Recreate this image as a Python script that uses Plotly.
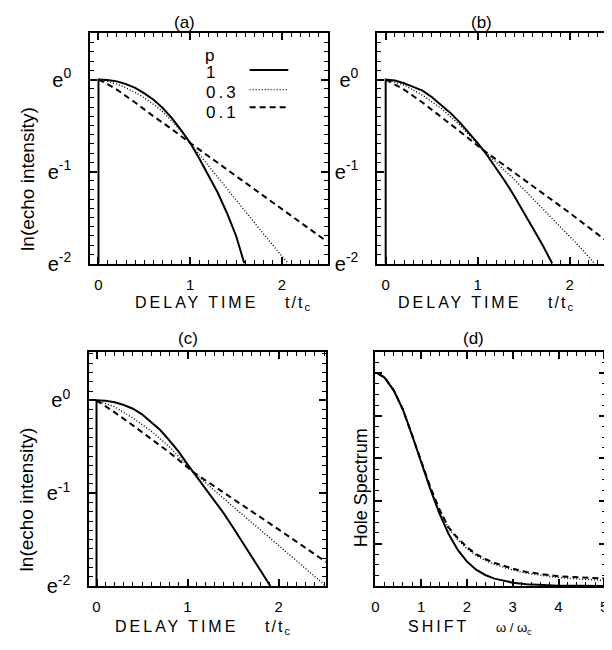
import plotly.graph_objects as go

# ---------------- data ----------------
# panel (a)
A_T_P1 = [0.0, 0.0, 0.1, 0.2, 0.3, 0.4, 0.5, 0.6, 0.7, 0.8, 0.9, 1.0, 1.1, 1.2, 1.3, 1.4, 1.5, 1.59]
A_Y_P1 = [-2.0, 0.0, -0.005, -0.02, -0.05, -0.09, -0.15, -0.22, -0.31, -0.42, -0.55, -0.69, -0.86, -1.04, -1.23, -1.45, -1.70, -2.0]
A_T_P03 = [0.0, 0.1, 0.2, 0.3, 0.4, 0.5, 0.6, 0.7, 0.8, 0.9, 1.0, 1.2, 1.4, 1.6, 1.8, 2.0, 2.07]
A_Y_P03 = [0.0, -0.02, -0.05, -0.09, -0.14, -0.20, -0.27, -0.35, -0.45, -0.56, -0.69, -0.94, -1.19, -1.44, -1.68, -1.92, -2.0]
A_T_P01 = [0.0, 0.1, 0.2, 0.3, 0.4, 0.6, 0.8, 1.0, 1.25, 1.5, 1.75, 2.0, 2.25, 2.49]
A_Y_P01 = [0.0, -0.05, -0.11, -0.18, -0.25, -0.40, -0.54, -0.69, -0.87, -1.05, -1.23, -1.41, -1.59, -1.76]

# panel (b)
B_T_P1 = [0.0, 0.0, 0.1, 0.2, 0.3, 0.4, 0.5, 0.6, 0.7, 0.8, 0.9, 1.0, 1.1, 1.2, 1.3, 1.4, 1.5, 1.6, 1.7, 1.81]
B_Y_P1 = [-2.0, 0.0, -0.01, -0.04, -0.08, -0.12, -0.19, -0.27, -0.36, -0.46, -0.57, -0.69, -0.82, -0.96, -1.11, -1.27, -1.44, -1.61, -1.79, -2.0]
B_T_P03 = [0.0, 0.2, 0.4, 0.6, 0.8, 1.065, 1.4, 1.8, 2.1, 2.27]
B_Y_P03 = [0.0, -0.06, -0.17, -0.31, -0.49, -0.77, -1.09, -1.50, -1.81, -2.0]
B_T_P01 = [0.0, 0.2, 0.4, 0.6, 0.8, 1.065, 1.5, 2.0, 2.46]
B_Y_P01 = [0.0, -0.11, -0.25, -0.40, -0.56, -0.77, -1.09, -1.45, -1.80]

# panel (c)
C_T_P1 = [0.0, 0.0, 0.1, 0.2, 0.3, 0.4, 0.5, 0.6, 0.7, 0.8, 0.9, 1.0, 1.1, 1.2, 1.3, 1.4, 1.5, 1.6, 1.7, 1.8, 1.91]
C_Y_P1 = [-2.0, 0.0, -0.005, -0.02, -0.05, -0.09, -0.15, -0.23, -0.32, -0.43, -0.55, -0.69, -0.82, -0.95, -1.08, -1.22, -1.37, -1.52, -1.67, -1.83, -2.0]
C_T_P03 = [0.0, 0.2, 0.4, 0.6, 0.8, 1.073, 1.4, 1.8, 2.2, 2.52]
C_Y_P03 = [0.0, -0.07, -0.19, -0.33, -0.50, -0.78, -1.06, -1.40, -1.73, -2.0]
C_T_P01 = [0.0, 0.2, 0.4, 0.6, 0.8, 1.073, 1.5, 2.0, 2.52]
C_Y_P01 = [0.0, -0.13, -0.27, -0.41, -0.56, -0.78, -1.06, -1.39, -1.74]

# panel (d)
D_W = [0.05, 0.2, 0.4, 0.6, 0.8, 1.0, 1.2, 1.4, 1.6, 1.8, 2.0, 2.2, 2.4, 2.6, 2.8, 3.0, 3.3, 3.6, 4.0, 4.5, 5.0, 5.04]
D_P1 = [1.0, 0.98, 0.92, 0.83, 0.71, 0.58, 0.455, 0.34, 0.245, 0.17, 0.115, 0.077, 0.052, 0.035, 0.024, 0.016, 0.009, 0.005, 0.002, 0.001, 0.0, 0.0]
D_P03 = [1.0, 0.98, 0.92, 0.83, 0.71, 0.585, 0.46, 0.355, 0.27, 0.218, 0.176, 0.143, 0.12, 0.102, 0.087, 0.075, 0.060, 0.050, 0.040, 0.032, 0.026, 0.026]
D_P01 = [1.0, 0.98, 0.92, 0.83, 0.71, 0.585, 0.465, 0.36, 0.275, 0.225, 0.183, 0.150, 0.127, 0.109, 0.094, 0.082, 0.066, 0.057, 0.046, 0.040, 0.035, 0.035]

P_LABELS = ["1", "0.3", "0.1"]
TIME_TICKS = [0, 1, 2]
SHIFT_TICKS = [0, 1, 2, 3, 4, 5]
# tick labels of the echo panels: ln-scale values shown as powers of e
ECHO_LABELS = {"0": "e<sup>0</sup>", "\u22121": "e<sup>-1</sup>", "\u22122": "e<sup>-2</sup>",
               "-1": "e<sup>-1</sup>", "-2": "e<sup>-2</sup>"}

# ---------------- layout helpers ----------------
W, H = 612, 650
FONT = "Liberation Sans"
TICKC = "black"


def fx(px):
    return px / W


def fy(py):
    return 1 - py / H


STYLES = {
    "1": dict(color="black", width=2.0, dash="solid"),
    "0.3": dict(color="black", width=1.4, dash="1px,2px"),
    "0.1": dict(color="black", width=2.0, dash="6px,4px"),
}

fig = go.Figure()

panels = [
    # suffix, x pixels, y pixels, x range, y range, series
    ("", (79, 319), (25, 260), [-0.09, 2.50], [-2.0, 0.51],
     [(A_T_P1, A_Y_P1), (A_T_P03, A_Y_P03), (A_T_P01, A_Y_P01)]),
    ("2", (369, 607), (25, 260), [-0.09, 2.47], [-2.0, 0.51],
     [(B_T_P1, B_Y_P1), (B_T_P03, B_Y_P03), (B_T_P01, B_Y_P01)]),
    ("3", (78, 317), (350, 588), [-0.08, 2.52], [-2.0, 0.52],
     [(C_T_P1, C_Y_P1), (C_T_P03, C_Y_P03), (C_T_P01, C_Y_P01)]),
    ("4", (367, 600), (350, 588), [0, 5.04], [0, 1.1],
     [(D_W, D_P1), (D_W, D_P03), (D_W, D_P01)]),
]

layout_axes = {}
for i, (sfx, xp, yp, xr, yr, series) in enumerate(panels):
    xa = "x" + sfx
    ya = "y" + sfx
    for lab, (xs, ys) in zip(P_LABELS, series):
        fig.add_trace(go.Scatter(x=xs, y=ys, mode="lines", name="p = " + lab,
                                 line=STYLES[lab], xaxis=xa, yaxis=ya,
                                 showlegend=False, hoverinfo="skip"))
    is_d = (i == 3)
    common = dict(showline=True, linecolor="black", linewidth=2, mirror="allticks",
                  ticks="inside", ticklen=7, tickwidth=1.6, tickcolor=TICKC,
                  showgrid=False, zeroline=False, fixedrange=True)
    minor_x = dict(ticks="inside", ticklen=4, tickwidth=1.3, tickcolor=TICKC,
                   tickmode="linear", tick0=0,
                   dtick=0.2 if is_d else 0.1, showgrid=False)
    minor_y = dict(ticks="inside", ticklen=4, tickwidth=1.3, tickcolor=TICKC,
                   tickmode="linear", tick0=0,
                   dtick=0.05 if is_d else 0.1, showgrid=False)
    xaxis = dict(common, domain=[fx(xp[0]), fx(xp[1])], range=xr, anchor=ya,
                 tickmode="array", tickvals=SHIFT_TICKS if is_d else TIME_TICKS,
                 tickfont=dict(family=FONT, size=15, color="black"),
                 ticklabelstandoff=6, ticklabeloverflow="allow", minor=minor_x)
    yaxis = dict(common, domain=[fy(yp[1]), fy(yp[0])], range=yr, anchor=xa,
                 minor=minor_y)
    if is_d:
        yaxis.update(tickmode="linear", tick0=0, dtick=0.2, showticklabels=False)
    else:
        yaxis.update(tickmode="linear", tick0=0, dtick=1, labelalias=ECHO_LABELS,
                     tickfont=dict(family=FONT, size=20, color="black"),
                     ticklabelstandoff=13)
    layout_axes["xaxis" + sfx] = xaxis
    layout_axes["yaxis" + sfx] = yaxis

annotations = []


def text(px, py, s, size=15, angle=0, xanchor="center", yanchor="middle"):
    annotations.append(dict(x=fx(px), y=fy(py), xref="paper", yref="paper", text=s,
                            showarrow=False, textangle=angle, xanchor=xanchor, yanchor=yanchor,
                            font=dict(family=FONT, size=size, color="black")))


# panel titles
text(174, 15, "(a)", 17)
text(474, 15, "(b)", 17)
text(178, 336, "(c)", 17)
text(466, 336, "(d)", 17)

# axis titles
SP = "<span style='letter-spacing:3px'>"
GAP = "&nbsp;" * 6
DELAY = SP + "DELAY TIME</span>" + GAP + "<span style='letter-spacing:2px'>t/t</span><sub>c</sub>"
text(213, 301, DELAY, 16)
text(478, 301, DELAY, 16)
text(192, 630, DELAY, 16)
text(463, 630, SP + "SHIFT</span>" + GAP + "<span style='font-size:13px'>ω / ω<sub>c</sub></span>", 16)
text(15, 174, "ln(echo intensity)", 19, angle=-90)
text(15, 500, "ln(echo intensity)", 19, angle=-90)
text(352, 488, "Hole Spectrum", 18, angle=-90)

# legend of panel (a): labels on the left, line samples on the right
LEG_X0 = (79, 319)
LEG_Y0 = (25, 260)


def dom_x(px):
    return (px - LEG_X0[0]) / (LEG_X0[1] - LEG_X0[0])


def dom_y(py):
    return 1 - (py - LEG_Y0[0]) / (LEG_Y0[1] - LEG_Y0[0])


annotations.append(dict(x=dom_x(193), y=dom_y(48), xref="x domain", yref="y domain", text="p",
                        showarrow=False, xanchor="left", yanchor="middle",
                        font=dict(family=FONT, size=17, color="black")))
shapes = []
for lab, py_text, py_line in zip(P_LABELS, [66, 86, 106], [63, 83, 101]):
    annotations.append(dict(x=dom_x(194), y=dom_y(py_text), xref="x domain", yref="y domain",
                            text=SP + lab + "</span>", showarrow=False, xanchor="left", yanchor="middle",
                            font=dict(family=FONT, size=17, color="black")))
    shapes.append(dict(type="line", xref="x domain", yref="y domain",
                       x0=dom_x(240), x1=dom_x(279), y0=dom_y(py_line), y1=dom_y(py_line),
                       line=STYLES[lab]))

fig.update_layout(
    width=W, height=H,
    margin=dict(l=0, r=0, t=0, b=0),
    paper_bgcolor="white", plot_bgcolor="white",
    showlegend=False,
    annotations=annotations,
    shapes=shapes,
    font=dict(family=FONT, color="black"),
    **layout_axes,
)

fig.write_html("out.html")
